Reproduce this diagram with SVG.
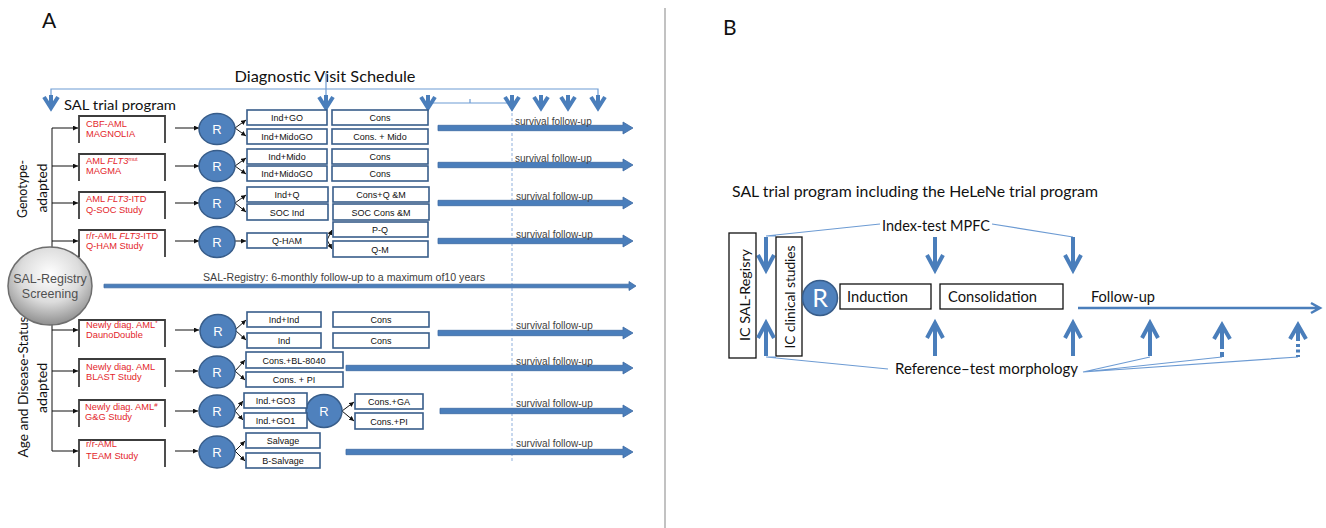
<svg xmlns="http://www.w3.org/2000/svg" xmlns:xlink="http://www.w3.org/1999/xlink" width="1326" height="528" viewBox="0 0 1326 528">
<style>
.cal{font-family:Lato,"Liberation Sans",sans-serif;fill:#111}
.ar{font-family:"Liberation Sans",Arial,sans-serif}
.bx{fill:#fff;stroke:#385d8a;stroke-width:1.6}
.bt{font-family:"Liberation Sans",Arial,sans-serif;font-size:9px;fill:#111;text-anchor:middle}
.st{fill:#fff;stroke:#3c3c3c;stroke-width:1.8}
.red{font-family:"Liberation Sans",Arial,sans-serif;font-size:9.3px;fill:#e3262b}
.rc{fill:#4f81bd;stroke:#385d8a;stroke-width:1.5}
.rt{font-family:"Liberation Sans",Arial,sans-serif;font-size:13px;fill:#fff;text-anchor:middle}
.thk{fill:#4a7ebb;stroke:#3d6aa3;stroke-width:0.8}
.sv{font-family:"Liberation Sans",Arial,sans-serif;font-size:10px;fill:#404040}
.blk{stroke:#111;stroke-width:1;fill:none;marker-end:url(#ah)}
.thin{stroke:#6d9bd3;stroke-width:1.2;fill:none}
.chev{stroke:#4a7ebb;stroke-width:4;fill:none}
.barr{stroke:#4a7ebb;stroke-width:4;fill:none}
.bb{fill:#fff;stroke:#111;stroke-width:1.3}
</style>
<defs>
<marker id="ah" viewBox="0 0 6 6" refX="6" refY="3" markerWidth="5" markerHeight="5" orient="auto" markerUnits="userSpaceOnUse"><path d="M0,0 L6,3 L0,6z" fill="#111"/></marker>
<radialGradient id="sph" cx="50%" cy="35%" r="65%">
<stop offset="0" stop-color="#ffffff"/><stop offset="0.55" stop-color="#dcdcdc"/><stop offset="1" stop-color="#8f8f8f"/>
</radialGradient>
<path id="vch" d="M0,-13 V-3 M-7,-11 L0,0 L7,-11"/>
<path id="dn" d="M0,-33 V-3 M-8,-15 L0,0 L8,-15"/>
</defs>
<rect width="1326" height="528" fill="#fff"/>

<!-- Panel A -->
<text class="cal" x="42" y="28" font-size="21">A</text>
<text class="cal" x="325" y="82" font-size="15" text-anchor="middle" textLength="181" lengthAdjust="spacingAndGlyphs">Diagnostic Visit Schedule</text>
<text class="cal" x="64" y="110" font-size="14" textLength="112" lengthAdjust="spacingAndGlyphs">SAL trial program</text>

<g id="visit-schedule">
<path class="thin" d="M51,95 V89 H598 V95 M326,73 V95 M428,103 H512 M470,99 V103"/>
<line x1="512" y1="108" x2="512" y2="462" stroke="#8fb0dc" stroke-width="1" stroke-dasharray="3,2"/>
<g class="chev">
<use href="#vch" x="51" y="108"/><use href="#vch" x="326" y="108"/><use href="#vch" x="428" y="108"/><use href="#vch" x="512" y="108"/><use href="#vch" x="541" y="108"/><use href="#vch" x="568" y="108"/><use href="#vch" x="598" y="108"/>
</g>
</g>

<g id="side-labels">
<text class="cal" font-size="14" text-anchor="middle" transform="translate(27,189) rotate(-90)" textLength="58" lengthAdjust="spacingAndGlyphs">Genotype-</text>
<text class="cal" font-size="14" text-anchor="middle" transform="translate(47,188) rotate(-90)" textLength="49" lengthAdjust="spacingAndGlyphs">adapted</text>
<text class="cal" font-size="14" text-anchor="middle" transform="translate(28,387) rotate(-90)" textLength="141" lengthAdjust="spacingAndGlyphs">Age and Disease-Status</text>
<text class="cal" font-size="14" text-anchor="middle" transform="translate(47,388) rotate(-90)" textLength="50" lengthAdjust="spacingAndGlyphs">adapted</text>
</g>

<g id="connectors">
<path d="M52,128 V250 M52,320 V451" stroke="#111" stroke-width="1" fill="none"/>
<line class="blk" x1="52" y1="128" x2="78" y2="128"/>
<line class="blk" x1="52" y1="166" x2="78" y2="166"/>
<line class="blk" x1="52" y1="203" x2="78" y2="203"/>
<line class="blk" x1="52" y1="241" x2="78" y2="241"/>
<line class="blk" x1="52" y1="330" x2="78" y2="330"/>
<line class="blk" x1="52" y1="371" x2="78" y2="371"/>
<line class="blk" x1="52" y1="411" x2="78" y2="411"/>
<line class="blk" x1="52" y1="451" x2="78" y2="451"/>
<line class="blk" x1="175" y1="128" x2="199" y2="128"/>
<line class="blk" x1="175" y1="166" x2="199" y2="166"/>
<line class="blk" x1="175" y1="203" x2="199" y2="203"/>
<line class="blk" x1="175" y1="241" x2="199" y2="241"/>
<line class="blk" x1="175" y1="330" x2="199" y2="330"/>
<line class="blk" x1="175" y1="371" x2="198" y2="371"/>
<line class="blk" x1="175" y1="411" x2="198" y2="411"/>
<line class="blk" x1="175" y1="451" x2="198" y2="451"/>
<line class="blk" x1="235" y1="128" x2="246" y2="120"/>
<line class="blk" x1="235" y1="128" x2="246" y2="136"/>
<line class="blk" x1="235" y1="166" x2="246" y2="158"/>
<line class="blk" x1="235" y1="166" x2="246" y2="174"/>
<line class="blk" x1="235" y1="203" x2="246" y2="195"/>
<line class="blk" x1="235" y1="203" x2="246" y2="212"/>
<line class="blk" x1="235" y1="241" x2="246" y2="241"/>
<line class="blk" x1="327" y1="240" x2="332" y2="230"/>
<line class="blk" x1="327" y1="240" x2="332" y2="249"/>
<line class="blk" x1="235" y1="330" x2="246" y2="320"/>
<line class="blk" x1="235" y1="330" x2="246" y2="340"/>
<line class="blk" x1="235" y1="371" x2="245" y2="360"/>
<line class="blk" x1="235" y1="371" x2="245" y2="380"/>
<line class="blk" x1="235" y1="411" x2="243" y2="401"/>
<line class="blk" x1="235" y1="411" x2="243" y2="420"/>
<line class="blk" x1="342" y1="411" x2="354" y2="402"/>
<line class="blk" x1="342" y1="411" x2="354" y2="421"/>
<line class="blk" x1="235" y1="451" x2="245" y2="441"/>
<line class="blk" x1="235" y1="451" x2="245" y2="461"/>
</g>

<g id="registry-circle">
<ellipse cx="50" cy="286" rx="42" ry="39" fill="url(#sph)" stroke="#6e6e6e" stroke-width="1.5"/>
<text class="ar" x="50" y="283" font-size="12.5" fill="#505050" text-anchor="middle">SAL-Registry</text>
<text class="ar" x="50" y="298" font-size="12.5" fill="#505050" text-anchor="middle">Screening</text>
</g>

<g id="registry-followup">
<polygon class="thk" points="104,284.2 629,284.2 629,281.5 636,286 629,290.5 629,287.8 104,287.8"/>
<text class="sv" x="203" y="281" textLength="282" lengthAdjust="spacingAndGlyphs">SAL-Registry: 6-monthly follow-up to a maximum of10 years</text>
</g>

<!-- Study boxes -->
<g id="study-magnolia"><path class="st" d="M79,143 V116 H165 V143"/><text class="red" x="86" y="127">CBF-AML</text><text class="red" x="86" y="137">MAGNOLIA</text></g>
<g id="study-magma"><path class="st" d="M79,181 V154 H165 V181"/><text class="red" x="86" y="164">AML <tspan font-style="italic">FLT3</tspan><tspan font-size="5.5" dy="-3">mut</tspan></text><text class="red" x="86" y="174">MAGMA</text></g>
<g id="study-qsoc"><path class="st" d="M79,219 V192 H165 V219"/><text class="red" x="86" y="202">AML  <tspan font-style="italic">FLT3</tspan>-ITD</text><text class="red" x="86" y="213">Q-SOC Study</text></g>
<g id="study-qham"><path class="st" d="M79,257 V230 H165 V257"/><text class="red" x="86" y="239">r/r-AML  <tspan font-style="italic">FLT3</tspan>-ITD</text><text class="red" x="86" y="249">Q-HAM Study</text></g>
<g id="study-daunodouble"><path class="st" d="M79,347 V320 H165 V347"/><text class="red" x="86" y="328">Newly diag. AML<tspan font-size="6" dy="-3">*</tspan></text><text class="red" x="86" y="338">DaunoDouble</text></g>
<g id="study-blast"><path class="st" d="M79,387 V359 H165 V387"/><text class="red" x="86" y="370">Newly diag. AML</text><text class="red" x="86" y="380">BLAST  Study</text></g>
<g id="study-gg"><path class="st" d="M79,427 V400 H165 V427"/><text class="red" x="85" y="410">Newly diag. AML<tspan font-size="6" dy="-3">#</tspan></text><text class="red" x="85" y="420">G&amp;G Study</text></g>
<g id="study-team"><path class="st" d="M79,467 V440 H165 V467"/><text class="red" x="86" y="447">r/r-AML</text><text class="red" x="86" y="459">TEAM Study</text></g>

<!-- R circles -->
<g id="r1"><ellipse class="rc" cx="217" cy="129" rx="18" ry="15.5"/><text class="rt" x="217" y="134">R</text></g>
<g id="r2"><ellipse class="rc" cx="217" cy="166" rx="18" ry="15.5"/><text class="rt" x="217" y="171">R</text></g>
<g id="r3"><ellipse class="rc" cx="217" cy="203" rx="18" ry="15.5"/><text class="rt" x="217" y="208">R</text></g>
<g id="r4"><ellipse class="rc" cx="217" cy="242" rx="18" ry="15.5"/><text class="rt" x="217" y="247">R</text></g>
<g id="r5"><ellipse class="rc" cx="218" cy="331" rx="18" ry="16.5"/><text class="rt" x="218" y="336">R</text></g>
<g id="r6"><ellipse class="rc" cx="217" cy="372" rx="18" ry="16"/><text class="rt" x="217" y="377">R</text></g>
<g id="r7"><ellipse class="rc" cx="217" cy="411" rx="18" ry="16"/><text class="rt" x="217" y="416">R</text></g>
<g id="r7b"><ellipse class="rc" cx="324" cy="411" rx="18" ry="16.5"/><text class="rt" x="324" y="416">R</text></g>
<g id="r8"><ellipse class="rc" cx="217" cy="452" rx="18" ry="16"/><text class="rt" x="217" y="457">R</text></g>

<!-- Treatment boxes -->
<g id="t-indgo"><rect class="bx" x="247" y="110" width="80" height="15"/><text class="bt" x="287" y="121">Ind+GO</text></g>
<g id="t-indmidogo1"><rect class="bx" x="247" y="129" width="80" height="15"/><text class="bt" x="287" y="140">Ind+MidoGO</text></g>
<g id="t-cons1"><rect class="bx" x="332" y="110" width="96" height="15"/><text class="bt" x="380" y="121">Cons</text></g>
<g id="t-consmido"><rect class="bx" x="332" y="129" width="96" height="15"/><text class="bt" x="380" y="140">Cons. + Mido</text></g>
<g id="t-indmido"><rect class="bx" x="247" y="149" width="80" height="15"/><text class="bt" x="287" y="160">Ind+Mido</text></g>
<g id="t-indmidogo2"><rect class="bx" x="247" y="166" width="80" height="15"/><text class="bt" x="287" y="177">Ind+MidoGO</text></g>
<g id="t-cons2"><rect class="bx" x="332" y="149" width="96" height="15"/><text class="bt" x="380" y="160">Cons</text></g>
<g id="t-cons3"><rect class="bx" x="332" y="166" width="96" height="15"/><text class="bt" x="380" y="177">Cons</text></g>
<g id="t-indq"><rect class="bx" x="247" y="187" width="81" height="15"/><text class="bt" x="287" y="198">Ind+Q</text></g>
<g id="t-socind"><rect class="bx" x="247" y="204" width="81" height="16"/><text class="bt" x="287" y="215.5">SOC Ind</text></g>
<g id="t-consq"><rect class="bx" x="333" y="187" width="96" height="15"/><text class="bt" x="381" y="198">Cons+Q &amp;M</text></g>
<g id="t-soccons"><rect class="bx" x="333" y="204" width="96" height="16"/><text class="bt" x="381" y="215.5">SOC Cons &amp;M</text></g>
<g id="t-qham"><rect class="bx" x="247" y="233" width="80" height="15"/><text class="bt" x="287" y="244">Q-HAM</text></g>
<g id="t-pq"><rect class="bx" x="333" y="222" width="95" height="15"/><text class="bt" x="380" y="233">P-Q</text></g>
<g id="t-qm"><rect class="bx" x="333" y="241" width="95" height="16"/><text class="bt" x="380" y="252.5">Q-M</text></g>

<g id="t-indind"><rect class="bx" x="247" y="312" width="74" height="15"/><text class="bt" x="284" y="323">Ind+Ind</text></g>
<g id="t-ind"><rect class="bx" x="247" y="333" width="74" height="15"/><text class="bt" x="284" y="344">Ind</text></g>
<g id="t-cons4"><rect class="bx" x="333" y="312" width="96" height="15"/><text class="bt" x="381" y="323">Cons</text></g>
<g id="t-cons5"><rect class="bx" x="333" y="333" width="96" height="15"/><text class="bt" x="381" y="344">Cons</text></g>
<g id="t-bl8040"><rect class="bx" x="246" y="352" width="97" height="16"/><text class="bt" x="294" y="363.5">Cons.+BL-8040</text></g>
<g id="t-conspi1"><rect class="bx" x="246" y="372" width="97" height="15"/><text class="bt" x="294" y="383">Cons. + PI</text></g>
<g id="t-go3"><rect class="bx" x="244" y="393" width="63" height="15"/><text class="bt" x="275.5" y="404">Ind.+GO3</text></g>
<g id="t-go1"><rect class="bx" x="244" y="413" width="63" height="15"/><text class="bt" x="275.5" y="424">Ind.+GO1</text></g>
<g id="t-consga"><rect class="bx" x="355" y="394" width="68" height="15"/><text class="bt" x="389" y="405">Cons.+GA</text></g>
<g id="t-conspi2"><rect class="bx" x="355" y="413" width="68" height="16"/><text class="bt" x="389" y="424.5">Cons.+PI</text></g>
<g id="t-salvage"><rect class="bx" x="246" y="433" width="74" height="15"/><text class="bt" x="283" y="444">Salvage</text></g>
<g id="t-bsalvage"><rect class="bx" x="246" y="453" width="74" height="15"/><text class="bt" x="283" y="464">B-Salvage</text></g>

<!-- survival arrows -->
<g id="survival">
<polygon class="thk" points="438,125.3 623,125.3 623,122 633,128 623,134 623,130.7 438,130.7"/>
<polygon class="thk" points="438,162.3 623,162.3 623,159 633,165 623,171 623,167.7 438,167.7"/>
<polygon class="thk" points="438,200.3 623,200.3 623,197 633,203 623,209 623,205.7 438,205.7"/>
<polygon class="thk" points="438,238.3 623,238.3 623,235 633,241 623,247 623,243.7 438,243.7"/>
<polygon class="thk" points="438,330.3 623,330.3 623,327 633,333 623,339 623,335.7 438,335.7"/>
<polygon class="thk" points="346,365.3 623,365.3 623,362 633,368 623,374 623,370.7 346,370.7"/>
<polygon class="thk" points="440,408.3 623,408.3 623,405 633,411 623,417 623,413.7 440,413.7"/>
<polygon class="thk" points="346,449.3 623,449.3 623,446 633,452 623,458 623,454.7 346,454.7"/>
<text class="sv" x="515" y="125">survival follow-up</text>
<text class="sv" x="515" y="162">survival follow-up</text>
<text class="sv" x="516" y="200">survival follow-up</text>
<text class="sv" x="516" y="238">survival follow-up</text>
<text class="sv" x="516" y="329">survival follow-up</text>
<text class="sv" x="516" y="365">survival follow-up</text>
<text class="sv" x="516" y="407">survival follow-up</text>
<text class="sv" x="516" y="447">survival follow-up</text>
</g>

<!-- divider -->
<line x1="665" y1="8" x2="665" y2="528" stroke="#999" stroke-width="1.2"/>

<!-- Panel B -->
<text class="cal" x="723" y="35" font-size="21">B</text>
<text class="cal" x="732" y="197" font-size="16" textLength="366" lengthAdjust="spacingAndGlyphs">SAL trial program including the HeLeNe trial program</text>

<g id="index-test">
<text class="cal" x="936" y="231" font-size="15" text-anchor="middle" textLength="108" lengthAdjust="spacingAndGlyphs">Index-test MPFC</text>
<path class="thin" d="M880,224 L766,236 H776 M992,224 L1073,237"/>
<g class="barr"><use href="#dn" x="766" y="270"/><use href="#dn" x="935" y="270"/><use href="#dn" x="1073" y="270"/></g>
</g>

<g id="ic-registry"><rect class="bb" x="729" y="233" width="27" height="125"/><text class="cal" font-size="14" text-anchor="middle" transform="translate(750,295) rotate(-90)" textLength="92" lengthAdjust="spacingAndGlyphs">IC SAL-Regisry</text></g>
<g id="ic-clinical"><rect class="bb" x="776" y="237" width="26" height="119"/><text class="cal" font-size="14" text-anchor="middle" transform="translate(795,297) rotate(-90)" textLength="103" lengthAdjust="spacingAndGlyphs">IC clinical studies</text></g>
<g id="r-b"><circle class="rc" cx="820" cy="298" r="17.5"/><text class="cal" x="820" y="307" font-size="25" style="fill:#fff" text-anchor="middle">R</text></g>
<g id="induction"><rect class="bb" x="840" y="284" width="91" height="25"/><text class="cal" x="847" y="302" font-size="15" textLength="61" lengthAdjust="spacingAndGlyphs">Induction</text></g>
<g id="consolidation"><rect class="bb" x="940" y="284" width="123" height="25"/><text class="cal" x="948" y="302" font-size="15" textLength="89" lengthAdjust="spacingAndGlyphs">Consolidation</text></g>

<g id="follow-up">
<text class="cal" x="1091" y="302" font-size="15" textLength="64" lengthAdjust="spacingAndGlyphs">Follow-up</text>
<path d="M1078,308 H1319 M1311,303 L1320,308 L1311,313" stroke="#4a7ebb" stroke-width="2.5" fill="none"/>
</g>

<g id="reference-test">
<text class="cal" x="895" y="374" font-size="15" textLength="183" lengthAdjust="spacingAndGlyphs">Reference–test morphology</text>
<path class="thin" d="M888,369 L766,357 H776 M1083,372 L1150,357 M1083,372 L1222,357 M1083,372 L1298,357"/>
<g class="barr">
<use href="#dn" transform="translate(766,323) rotate(180)"/>
<use href="#dn" transform="translate(935,323) rotate(180)"/>
<use href="#dn" transform="translate(1073,323) rotate(180)"/>
<use href="#dn" transform="translate(1150,323) rotate(180)"/>
<path d="M1214,339 L1222,325 L1230,339 M1222,327 V349 M1222,352 V357"/>
<path d="M1290,339 L1298,325 L1306,339 M1298,327 V341" />
<path d="M1298,344 V357" stroke-dasharray="3,2.5"/>
</g>
</g>
</svg>
